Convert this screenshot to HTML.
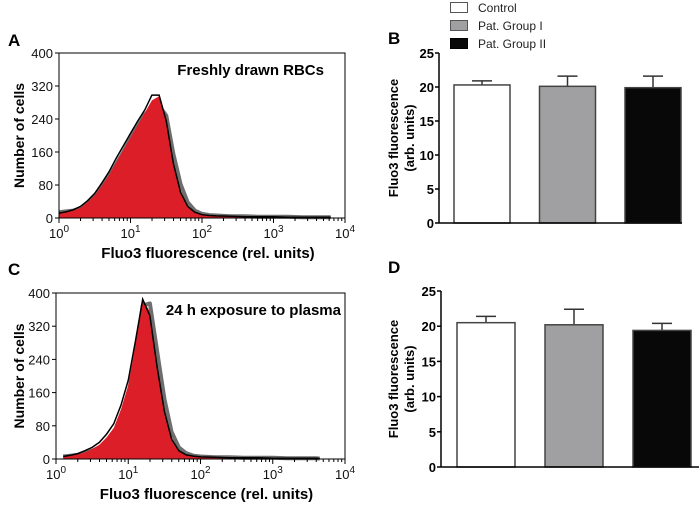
<!DOCTYPE html>
<html><head><meta charset="utf-8"><style>
body{margin:0;background:#fff;}
svg{display:block;font-family:"Liberation Sans",Arial,sans-serif;}
</style></head><body>
<svg id="fig" width="700" height="510" viewBox="0 0 700 510" xmlns="http://www.w3.org/2000/svg">
<text x="8" y="46" font-size="17" font-weight="bold">A</text>
<text x="388" y="44" font-size="17" font-weight="bold">B</text>
<text x="8" y="275" font-size="17" font-weight="bold">C</text>
<text x="388" y="273" font-size="17" font-weight="bold">D</text>
<g>
<rect x="450.5" y="2.5" width="17" height="10" fill="#fff" stroke="#555"/>
<text x="478" y="12" font-size="12" fill="#222">Control</text>
<rect x="450.5" y="20.5" width="17" height="10" fill="#a0a0a3" stroke="#555"/>
<text x="478" y="30" font-size="12" fill="#222">Pat. Group I</text>
<rect x="450.5" y="38.5" width="17" height="10" fill="#080808" stroke="#000"/>
<text x="478" y="48" font-size="12" fill="#222">Pat. Group II</text>
</g>
</svg>
<script>
// ---- Histogram data (log10 bin centers, counts) ----
const histLogX = [0,0.1,0.2,0.3,0.4,0.5,0.6,0.7,0.8,0.9,1.0,1.1,1.2,1.3,1.4,1.5,1.6,1.7,1.8,1.9,2.0,2.1,2.2,2.4,2.6,2.8,3.0,3.2,3.4,3.6,3.8];
const histARed   = [11,14,18,25,38,55,78,104,135,165,195,225,255,285,295,235,130,62,28,14,8,6,5,4,3,3,3,2,2,2,2];
const histABlack = [12,15,20,28,42,60,85,112,145,175,205,235,262,298,298,235,132,62,28,14,8,6,5,4,3,3,3,2,2,2,2];
const histAGray  = [14,16,18,24,36,52,74,100,130,160,192,222,250,268,272,248,155,82,38,18,10,7,6,4,4,3,3,3,2,2,2];
const histCLogX = [0.1,0.2,0.3,0.4,0.5,0.6,0.7,0.8,0.9,1.0,1.1,1.2,1.3,1.4,1.5,1.6,1.7,1.8,1.9,2.0,2.2,2.4,2.6,2.8,3.0,3.2,3.4,3.6,3.65];
const histCRed   = [5,8,11,16,24,34,52,75,120,178,275,385,355,228,118,50,20,10,7,5,4,3,3,3,2,2,2,2,1];
const histCBlack = [6,9,13,20,28,40,60,85,130,190,285,385,345,222,115,48,20,10,7,5,4,3,3,3,2,2,2,2,1];
const histCGray  = [6,8,10,14,20,28,42,62,100,155,245,370,375,260,145,65,28,14,8,6,4,4,3,3,3,2,2,2,1];
const histYTicks = [0,80,160,240,320,400];
const histXDecades = [0,1,2,3,4];
// ---- Bar data ----
const barCategories = ["Control","Pat. Group I","Pat. Group II"];
const barBValues = [20.3,20.1,19.9];
const barBErrors = [0.6,1.5,1.7];
const barDValues = [20.5,20.2,19.4];
const barDErrors = [0.9,2.2,1.0];
const barYTicks = [0,5,10,15,20,25];
const barColors = ["#ffffff","#a0a0a3","#080808"];

const svg = document.getElementById('fig');
const NS = 'http://www.w3.org/2000/svg';
function mk(tag, attrs, parent){const e=document.createElementNS(NS,tag);for(const k in attrs)e.setAttribute(k,attrs[k]);(parent||svg).appendChild(e);return e;}

function histPanel(id, box, logX, red, black, gray, title, titleX){
  const g = mk('g',{});
  
  
  const xs = v => box.l + (box.r-box.l)*v/4;
  const ys = v => box.b - (box.b-box.t)*v/400;
  function pts(arr){return logX.map((v,i)=>xs(v).toFixed(1)+','+ys(arr[i]).toFixed(1));}
  const gl = mk('polyline',{points: pts(gray).join(' '), fill:'none', stroke:'#6e6e6e','stroke-width':4,'stroke-linejoin':'round'}, g);
  
  
  const area = mk('polygon',{points: xs(logX[0])+','+ys(0)+' '+pts(red).join(' ')+' '+xs(logX[logX.length-1])+','+ys(0), fill:'#dc1e28'}, g);
  
  
  const bl = mk('polyline',{points: pts(black).join(' '), fill:'none', stroke:'#000','stroke-width':1.5}, g);
  
  
  const frame = mk('rect',{x:box.l,y:box.t,width:box.r-box.l,height:box.b-box.t,fill:'none',stroke:'#000','stroke-width':1}, g);
  
  
  histYTicks.forEach(t=>{
    mk('line',{x1:box.l-4,x2:box.l,y1:ys(t),y2:ys(t),stroke:'#000'},g);
    const tx = mk('text',{x:box.l-6,y:ys(t)+5,'font-size':13,'text-anchor':'end',fill:'#111'},g);
    tx.textContent = t;
    
    
  });
  histXDecades.forEach(d=>{
    mk('line',{x1:xs(d),x2:xs(d),y1:box.b,y2:box.b+5,stroke:'#000'},g);
    if(d<4){for(let k=2;k<10;k++){const x=xs(d+Math.log10(k));mk('line',{x1:x,x2:x,y1:box.b,y2:box.b+3,stroke:'#000'},g);}}
    const tx = mk('text',{x:xs(d),y:box.b+20,'font-size':13,'text-anchor':'middle',fill:'#111'},g);
    tx.innerHTML = '10<tspan dy="-6" font-size="10">'+d+'</tspan>';
    
    
  });
  const yt = mk('text',{x:0,y:0,'font-size':14,'font-weight':'bold','text-anchor':'middle',transform:'translate(24,'+((box.t+box.b)/2)+') rotate(-90)'},g);
  yt.textContent='Number of cells';
  
  
  const xt = mk('text',{x:(box.l+box.r)/2+6,y:box.b+40,'font-size':15,'font-weight':'bold','text-anchor':'middle'},g);
  xt.textContent='Fluo3 fluorescence (rel. units)';
  
  
  const tt = mk('text',{x:titleX,y:box.t+22,'font-size':15,'font-weight':'bold','text-anchor':'end'},g);
  tt.textContent=title;
  
  
}
histPanel('histogram-panel-a',{l:59,r:345,t:53,b:218},histLogX,histARed,histABlack,histAGray,'Freshly drawn RBCs',324);
histPanel('histogram-panel-c',{l:56,r:345,t:293,b:459},histCLogX,histCRed,histCBlack,histCGray,'24 h exposure to plasma',341);

function barPanel(id, box, vals, errs){
  const g = mk('g',{});
  
  
  const ys = v => box.b - (box.b-box.t)*v/25;
  vals.forEach((v,i)=>{
    const x = box.x0 + i*box.step;
    const el = mk('line',{x1:x+box.w/2,x2:x+box.w/2,y1:ys(v),y2:ys(v+errs[i]),stroke:'#333','stroke-width':1.5},g);
    
    
    mk('line',{x1:x+box.w/2-10,x2:x+box.w/2+10,y1:ys(v+errs[i]),y2:ys(v+errs[i]),stroke:'#333','stroke-width':1.5},g);
    const r = mk('rect',{x:x,y:ys(v),width:box.w,height:ys(0)-ys(v),fill:barColors[i],stroke:'#444','stroke-width':1.5},g);
    
    
  });
  mk('line',{x1:box.l,x2:box.l,y1:box.t,y2:box.b,stroke:'#000','stroke-width':1.5},g);
  mk('line',{x1:box.l,x2:box.r,y1:box.b,y2:box.b,stroke:'#000','stroke-width':1.5},g);
  barYTicks.forEach(t=>{
    mk('line',{x1:box.l-4,x2:box.l,y1:ys(t),y2:ys(t),stroke:'#000','stroke-width':1.5},g);
    const tx = mk('text',{x:box.l-5,y:ys(t)+5,'font-size':13,'font-weight':'bold','text-anchor':'end'},g);
    tx.textContent=t;
    
    
  });
  const cy=(box.t+box.b)/2;
  const t1 = mk('text',{x:0,y:0,'font-size':13,'font-weight':'bold','text-anchor':'middle',transform:'translate(398,'+cy+') rotate(-90)'},g);
  t1.textContent='Fluo3 fluorescence';
  
  
  const t2 = mk('text',{x:0,y:0,'font-size':13,'font-weight':'bold','text-anchor':'middle',transform:'translate(414,'+cy+') rotate(-90)'},g);
  t2.textContent='(arb. units)';
  
  
}
barPanel('bar-panel-b',{l:439,r:682,t:53,b:223,x0:454,step:85.5,w:56},barBValues,barBErrors);
barPanel('bar-panel-d',{l:441,r:699,t:291,b:467,x0:457,step:88,w:58},barDValues,barDErrors);
</script>
</body></html>
